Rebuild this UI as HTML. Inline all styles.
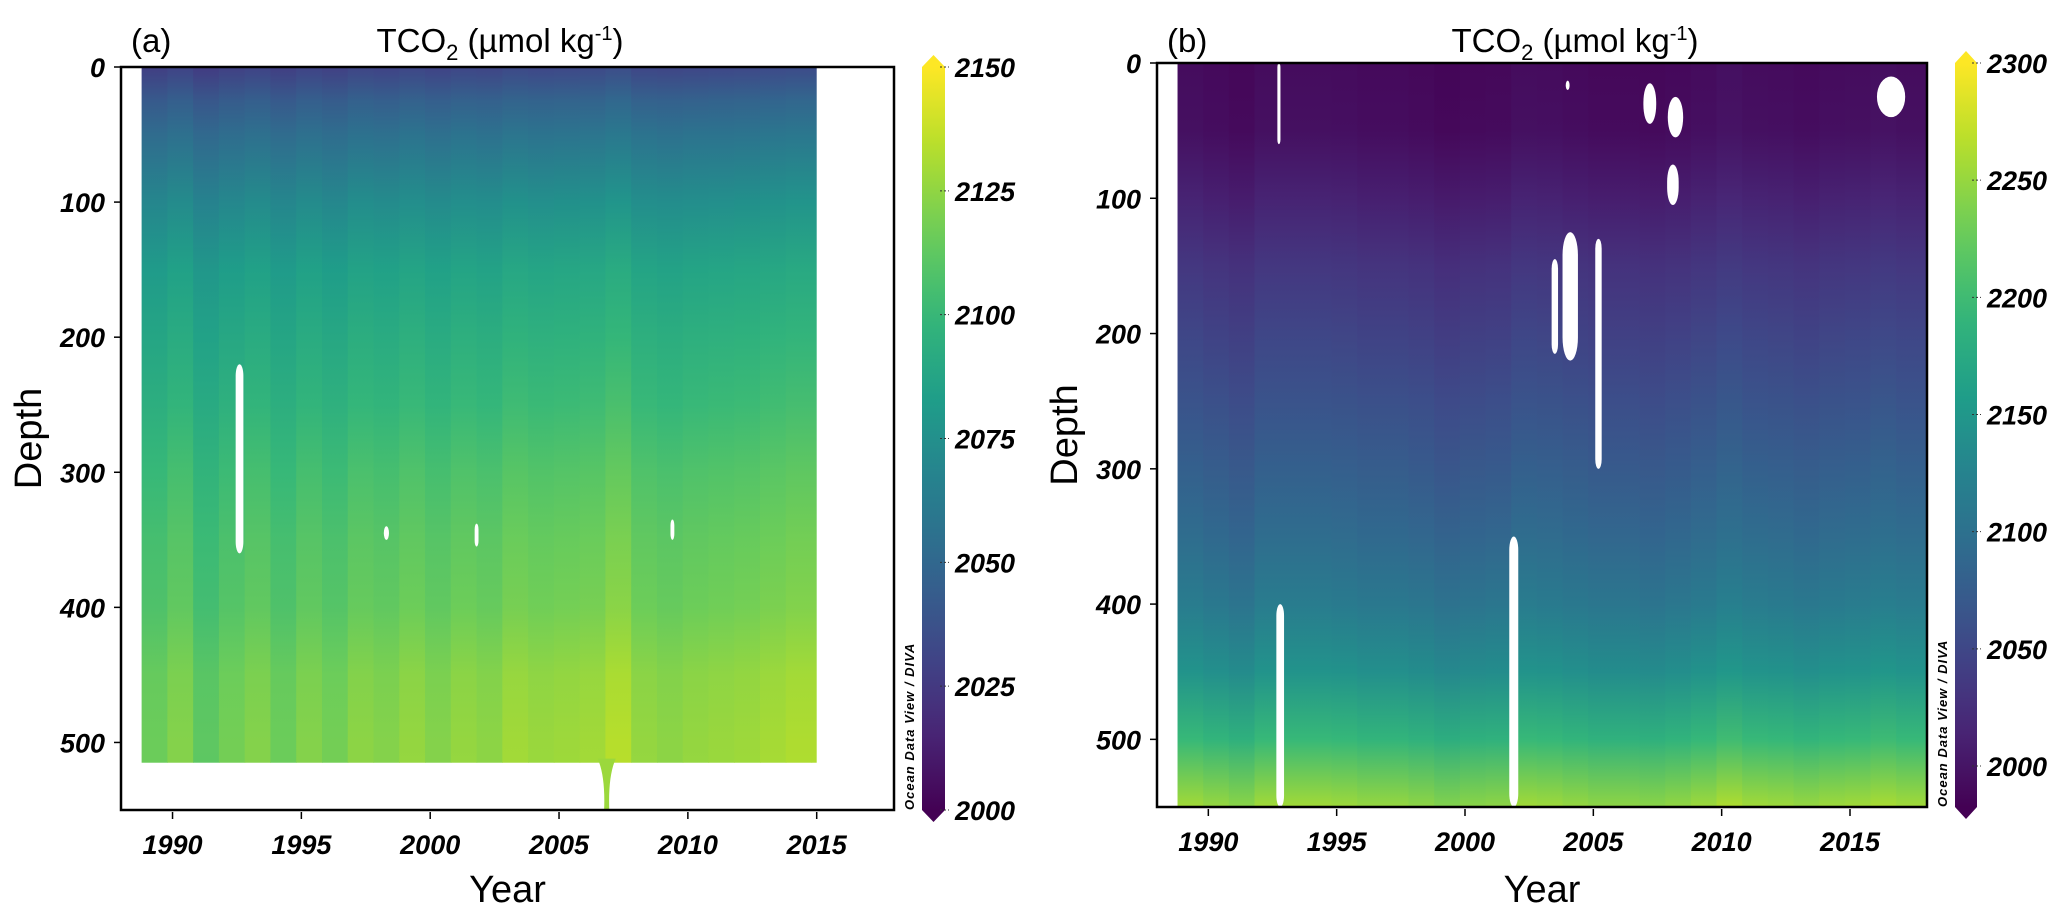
<!DOCTYPE html>
<html><head><meta charset="utf-8">
<style>
html,body{margin:0;padding:0;background:#fff;}
svg{display:block;}
.tick{font-family:"Liberation Sans Narrow","Liberation Sans",sans-serif;font-weight:bold;font-style:italic;font-size:27px;fill:#000;}
.ttl{font-family:"Liberation Sans Narrow","Liberation Sans",sans-serif;font-size:33px;fill:#000;}
.axl{font-family:"Liberation Sans Narrow","Liberation Sans",sans-serif;font-size:38px;fill:#000;}
.odv{font-family:"Liberation Sans",sans-serif;font-weight:bold;font-style:italic;font-size:13px;fill:#000;letter-spacing:1px;}
</style></head>
<body>
<svg id="fig" width="2067" height="921" viewBox="0 0 2067 921" xmlns="http://www.w3.org/2000/svg">
<defs id="defs"></defs>
</svg>
<script>
// ---------- data ----------
const yearTicks = [1990,1995,2000,2005,2010,2015];
const depthTicks = [0,100,200,300,400,500];
const cbTicksA = [2000,2025,2050,2075,2100,2125,2150];
const cbTicksB = [2000,2050,2100,2150,2200,2250,2300];

const profDepthA = [0,25,50,100,150,200,250,300,350,400,450,500,515];
const profValA   = [2030,2045,2055,2072,2085,2092,2098,2105,2110,2113,2120,2122,2122];
const colYearsA  = [1989,1990,1991,1992,1993,1994,1995,1996,1997,1998,1999,2000,2001,2002,2003,2004,2005,2006,2007,2008,2009,2010,2011,2012,2013,2014];
const anomA      = [-6,0,-10,-4,0,-6,0,-4,2,0,4,0,4,2,7,5,6,7,12,4,2,4,5,6,8,10];

const profDepthB = [0,50,100,150,200,250,300,350,400,450,500,550];
const profValB   = [1990,1993,2010,2030,2045,2060,2075,2090,2110,2140,2190,2250];
const colYearsB  = [1989,1990,1991,1992,1993,1994,1995,1996,1997,1998,1999,2000,2001,2002,2003,2004,2005,2006,2007,2008,2009,2010,2011,2012,2013,2014,2015,2016,2017];
const anomB      = [6,0,-6,6,6,6,4,0,0,-4,-10,-6,-4,6,4,0,-4,-4,-6,-2,4,12,6,4,0,4,6,10,6];

const gapYearA = [1992.6,1998.3,2001.8,2009.4];
const gapTopA  = [220,340,338,335];
const gapBotA  = [360,350,355,350];
const gapWA    = [0.3,0.2,0.15,0.15];

const gapYearB = [1992.8,1992.75,2001.9,2003.5,2004.1,2005.2,2007.2,2008.2,2008.1,2016.6,2004.0];
const gapTopB  = [400,0,350,145,125,130,15,25,75,10,13];
const gapBotB  = [550,60,550,215,220,300,45,55,105,40,20];
const gapWB    = [0.3,0.12,0.35,0.25,0.6,0.25,0.5,0.6,0.45,1.1,0.15];

// ---------- helpers ----------
const NS='http://www.w3.org/2000/svg';
const svg=document.getElementById('fig');
const defs=document.getElementById('defs');
function el(tag,attrs,parent){const e=document.createElementNS(NS,tag);for(const k in attrs)e.setAttribute(k,attrs[k]);(parent||svg).appendChild(e);return e;}
const VIR=[[68,1,84],[72,40,120],[62,74,137],[49,104,142],[38,130,142],[31,158,137],[53,183,121],[109,205,89],[180,222,44],[253,231,37]];
function viridis(t){t=Math.max(0,Math.min(1,t));const p=t*(VIR.length-1);const i=Math.min(VIR.length-2,Math.floor(p));const f=p-i;const c=VIR[i].map((v,k)=>Math.round(v+(VIR[i+1][k]-v)*f));return `rgb(${c[0]},${c[1]},${c[2]})`;}

function panel(P){
  const xS=y=>P.x0+(y-1988)/30*(P.x1-P.x0);
  const yS=d=>P.y0+d/550*(P.y1-P.y0);
  const g=el('g',{});
  
  
  for(let i=0;i<P.cols.length;i++){
    const gid=P.id+'grad'+i;
    const lg=el('linearGradient',{id:gid,x1:0,y1:0,x2:0,y2:1,gradientUnits:'userSpaceOnUse'},defs);
    lg.setAttribute('y1',yS(0));lg.setAttribute('y2',yS(P.pd[P.pd.length-1]));
    const dmax=P.pd[P.pd.length-1];
    for(let j=0;j<P.pd.length;j++){
      const w=0.4+0.6*P.pd[j]/dmax;
      el('stop',{offset:(P.pd[j]/dmax).toFixed(4),'stop-color':viridis((P.pv[j]+P.an[i]*w-P.vmin)/(P.vmax-P.vmin))},lg);
    }
    const xa=Math.max(xS(P.cols[i]-0.2),xS(P.dStart));
    const xb=Math.min(xS(P.cols[i]+0.8),xS(P.dEnd));
    const r=el('rect',{x:xa,y:yS(0),width:xb-xa+0.6,height:yS(dmax)-yS(0),fill:`url(#${gid})`},g);
    
    
  }
  if(P.extraCol){
    const i=P.cols.length-1;
    const xa=xS(P.cols[i]+0.8),xb=xS(P.dEnd);
    if(xb>xa){const r=el('rect',{x:xa,y:yS(0),width:xb-xa,height:yS(P.pd[P.pd.length-1])-yS(0),fill:`url(#${P.id}grad${i})`},g);
      }
  }
  if(P.spike){
    const s=el('path',{d:`M${xS(2006.5)},${yS(512)} Q${xS(2006.8)},${yS(525)} ${xS(2006.75)},${yS(550)} L${xS(2006.95)},${yS(550)} Q${xS(2006.9)},${yS(525)} ${xS(2007.2)},${yS(512)} Z`,fill:viridis(0.85)},g);
    
  }
  for(let k=0;k<P.gy.length;k++){
    const w=xS(P.gy[k]+P.gw[k]/2)-xS(P.gy[k]-P.gw[k]/2);
    const gp=el('rect',{x:xS(P.gy[k]-P.gw[k]/2),y:yS(P.gt[k]),width:w,height:yS(P.gb[k])-yS(P.gt[k]),rx:w/2,ry:Math.min(w*1.5,(yS(P.gb[k])-yS(P.gt[k]))/2),fill:'#fff'},g);
    
    
  }
  const fr=el('rect',{x:P.x0,y:P.y0,width:P.x1-P.x0,height:P.y1-P.y0,fill:'none',stroke:'#000','stroke-width':2.5},g);
  
  yearTicks.forEach(t=>{
    const x=xS(t);
    el('line',{x1:x,x2:x,y1:P.y1+2,y2:P.y1+9,stroke:'#000','stroke-width':1.5},g);
    const tx=el('text',{x:x,y:P.y1+44,'text-anchor':'middle',class:'tick'},g);tx.textContent=t;
    
  });
  depthTicks.forEach(t=>{
    const y=yS(t);
    el('line',{x1:P.x0-7,x2:P.x0,y1:y,y2:y,stroke:'#000','stroke-width':1.5},g);
    const tx=el('text',{x:P.x0-16,y:y+10,'text-anchor':'end',class:'tick'},g);tx.textContent=t;
    
  });
  const xt=el('text',{x:(P.x0+P.x1)/2,y:902,'text-anchor':'middle',class:'axl'},g);xt.textContent='Year';
  
  const yt=el('text',{x:0,y:0,'text-anchor':'middle',class:'axl',transform:`translate(${P.x0-80},${(P.y0+P.y1)/2}) rotate(-90)`},g);yt.textContent='Depth';
  
  const lb=el('text',{x:P.x0+10,y:52,class:'ttl'},g);lb.textContent=P.label;
  
  const tt=el('text',{x:P.tx,y:52,'text-anchor':'middle',class:'ttl'},g);
  tt.innerHTML='TCO<tspan dy="8" font-size="22">2</tspan><tspan dy="-8"> (µmol kg</tspan><tspan dy="-12" font-size="20">-1</tspan><tspan dy="12">)</tspan>';
  
  const cg=el('linearGradient',{id:P.id+'cb',x1:0,y1:1,x2:0,y2:0},defs);
  for(let k=0;k<=20;k++)el('stop',{offset:k/20,'stop-color':viridis(k/20)},cg);
  const cbY=v=>P.cbB-(v-P.vmin)/(P.vmax-P.vmin)*(P.cbB-P.cbT);
  const cb=el('rect',{x:P.cbx,y:P.cbT,width:P.cbw,height:P.cbB-P.cbT,fill:`url(#${P.id}cb)`},g);
  
  const t1=el('path',{d:`M${P.cbx},${P.cbT} L${P.cbx+P.cbw/2},${P.cbT-12} L${P.cbx+P.cbw},${P.cbT} Z`,fill:viridis(1)},g);
  
  const t2=el('path',{d:`M${P.cbx},${P.cbB} L${P.cbx+P.cbw/2},${P.cbB+12} L${P.cbx+P.cbw},${P.cbB} Z`,fill:viridis(0)},g);
  
  P.cbt.forEach(v=>{
    const y=cbY(v);
    el('line',{x1:P.cbx+P.cbw-5,x2:P.cbx+P.cbw+4,y1:y,y2:y,stroke:'#333','stroke-width':1,'stroke-dasharray':'2,2'},g);
    const tx=el('text',{x:P.cbx+P.cbw+10,y:y+10,class:'tick'},g);tx.textContent=v;
    
  });
  const od=el('text',{x:0,y:0,class:'odv',transform:`translate(${P.cbx-8},${P.y1}) rotate(-90)`},g);od.textContent='Ocean Data View / DIVA';
  
}

panel({id:'a',label:'(a)',x0:121,x1:894,y0:67,y1:810,tx:500,cols:colYearsA,pd:profDepthA,pv:profValA,an:anomA,
  vmin:2000,vmax:2150,dStart:1988.8,dEnd:2015.0,extraCol:true,spike:true,
  gy:gapYearA,gt:gapTopA,gb:gapBotA,gw:gapWA,cbx:922,cbw:23,cbT:67,cbB:810,cbt:cbTicksA});
panel({id:'b',label:'(b)',x0:1157,x1:1927,y0:63,y1:807,tx:1575,cols:colYearsB,pd:profDepthB,pv:profValB,an:anomB,
  vmin:1982.5,vmax:2300,dStart:1988.8,dEnd:2018.0,extraCol:true,spike:false,
  gy:gapYearB,gt:gapTopB,gb:gapBotB,gw:gapWB,cbx:1955,cbw:22,cbT:63,cbB:807,cbt:cbTicksB});
</script>
</body></html>
